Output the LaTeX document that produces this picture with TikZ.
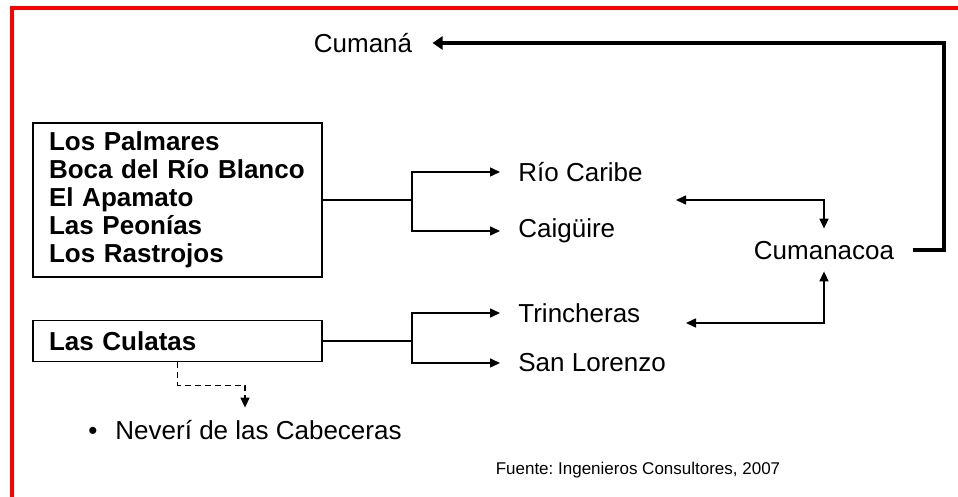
\documentclass[tikz,border=0pt]{standalone}
\usepackage{fontspec}
\setmainfont{Liberation Sans}
\usetikzlibrary{arrows.meta}
\frenchspacing

\begin{document}
\begin{tikzpicture}[x=0.5pt,y=-0.5pt]
\tikzstyle{every node}=[font=\fontsize{13}{14}\selectfont]
\tikzstyle{box}=[draw,line width=0.75pt,align=left,text width=128.5pt,inner xsep=8pt,minimum width=144.5pt,font=\fontsize{13}{14}\selectfont\bfseries]
\tikzstyle{place}=[anchor=west,inner xsep=9pt]
\tikzstyle{link}=[line width=0.75pt,-{Triangle[length=5pt,width=4.5pt]}]
\tikzstyle{both}=[line width=0.75pt,{Triangle[length=5pt,width=4.5pt]}-{Triangle[length=5pt,width=4.5pt]}]
\useasboundingbox (0,0) rectangle (958,497);
\draw[red,line width=2pt] (958,8.5) -- (12,8.5) -- (12,497);

% origen
\node[box,minimum height=77pt] (palm) at (177.5,200) {Los Palmares\\Boca del Río Blanco\\El Apamato\\Las Peonías\\Los Rastrojos};
\node[box,minimum height=20.5pt] (cul) at (177.5,341) {Las Culatas};

% destinos
\node[place] (rio) at (500,172) {Río Caribe};
\node[place] (cai) at (500,231) {Caigüire};
\node[place] (tri) at (500,313) {Trincheras};
\node[place] (slo) at (500,363) {San Lorenzo};
\node[inner xsep=9pt,inner ysep=5.75pt,text height=9.5pt,text depth=0pt] (cum) at (824,250) {Cumanacoa};
\node[inner xsep=10pt] (cumana) at (363,43) {Cumaná};
\node[inner ysep=6.25pt,text height=9.5pt,text depth=0pt] (nev) at (245,430) {•\hspace{9pt}Neverí de las Cabeceras};
\node[font=\fontsize{8.5}{10}\selectfont] (fuente) at (638,470) {Fuente: Ingenieros Consultores, 2007};

% ramas
\coordinate (s1) at (412,200);
\coordinate (s2) at (412,341);
\draw[line width=0.75pt] (palm.east) -- (s1);
\draw[link] (s1) |- (rio.west);
\draw[link] (s1) |- (cai.west);
\draw[line width=0.75pt] (cul.east) -- (s2);
\draw[link] (s2) |- (tri.west);
\draw[link] (s2) |- (slo.west);

\coordinate (rcend) at (676,200);
\coordinate (trend) at (686,323);
\draw[both] (rcend) -| (cum.north);
\draw[both] (trend) -| (cum.south);

\draw[line width=2pt,-{Triangle[length=5pt,width=6.5pt]}] (cum.east) -- ++(31,0) |- (cumana.east);
\draw[link,dashed,dash pattern=on 3pt off 2pt] (cul.south) -- ++(0,23) -| (nev.north);

\end{tikzpicture}
\end{document}
